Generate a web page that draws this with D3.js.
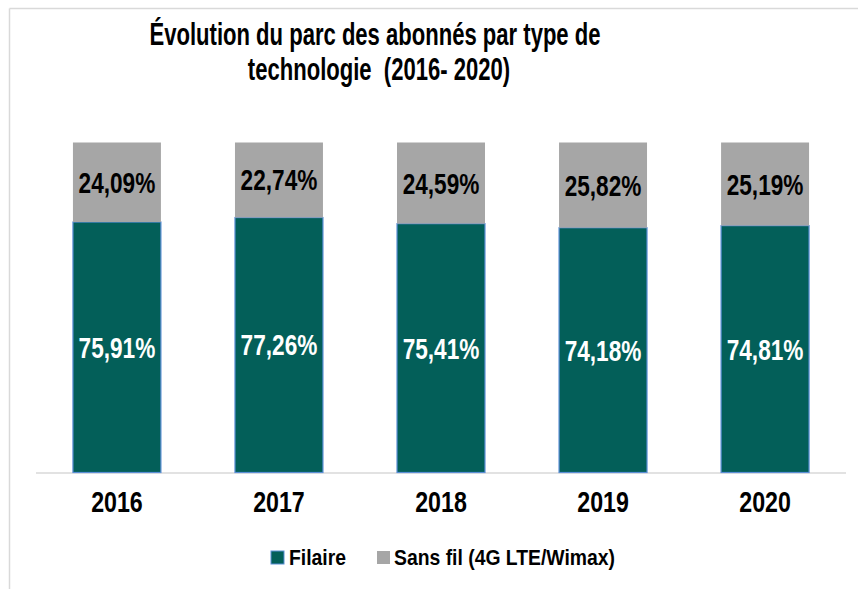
<!DOCTYPE html>
<html>
<head>
<meta charset="utf-8">
<script src="https://cdn.jsdelivr.net/npm/d3@7"></script>
<style>
  body { margin: 0; background: #fff; }
  text { font-family: "Liberation Sans Narrow", "Arial Narrow", "Liberation Sans", Arial, sans-serif; font-weight: bold; white-space: pre; }
</style>
</head>
<body>
<div id="chart"></div>
<script>
const years = ["2016", "2017", "2018", "2019", "2020"];
const filaire = [75.91, 77.26, 75.41, 74.18, 74.81];
const sansFil = [24.09, 22.74, 24.59, 25.82, 25.19];
const seriesNames = ["Filaire", "Sans fil (4G LTE/Wimax)"];

const width = 858, height = 589;
const colors = { filaire: "#035f59", sansFil: "#a6a6a6" };
// no narrow font installed, so squeeze the regular bold one
const place = (px, py, sx) => `translate(${px},${py}) scale(${sx},1)`;

const svg = d3.select("#chart").append("svg")
    .attr("width", width)
    .attr("height", height);

// frame lines (top and left)
svg.append("line").attr("x1", 9.5).attr("x2", width).attr("y1", 8.5).attr("y2", 8.5)
    .attr("stroke", "#d9d9d9").attr("stroke-width", 1.5);
svg.append("line").attr("x1", 9.5).attr("x2", 9.5).attr("y1", 8.5).attr("y2", height)
    .attr("stroke", "#d9d9d9").attr("stroke-width", 1.5);

// title
const titleLines = ["Évolution du parc des abonnés par type de", "technologie  (2016- 2020)"];
svg.selectAll("text.title")
    .data(titleLines)
    .enter().append("text")
    .attr("class", "title")
    .attr("transform", (d, i) => place(i ? 379 : 375, 45 + i * 34.5, 0.712))
    .attr("text-anchor", "middle")
    .attr("font-size", 31)
    .attr("fill", "#000")
    .text(d => d);

const data = years.map((y, i) => ({ year: y, filaire: filaire[i] / 100, sansFil: sansFil[i] / 100 }));
const stacked = d3.stack().keys(["filaire", "sansFil"])(data);

const x = d3.scaleBand().domain(years).range([36, 846]).paddingInner(0.457).paddingOuter(0.228);
const y = d3.scaleLinear().domain([0, 1]).range([472.5, 142.5]);

// axis line
svg.append("line").attr("x1", 36).attr("x2", 846).attr("y1", 473).attr("y2", 473)
    .attr("stroke", "#d9d9d9").attr("stroke-width", 1.5);

// bars
const layers = svg.selectAll("g.layer")
    .data(stacked)
    .enter().append("g")
    .attr("class", "layer")
    .attr("fill", d => colors[d.key]);

layers.selectAll("rect")
    .data(d => d.map(v => ({ key: d.key, v })))
    .enter().append("rect")
    .attr("x", d => x(d.v.data.year))
    .attr("y", d => y(d.v[1]))
    .attr("width", x.bandwidth())
    .attr("height", d => y(d.v[0]) - y(d.v[1]))
    .attr("stroke", d => d.key === "filaire" ? "#5b8fd6" : "none")
    .attr("stroke-width", 1.2);

// value labels
layers.selectAll("text")
    .data(d => d.map(v => ({ key: d.key, v })))
    .enter().append("text")
    .attr("transform", d => place(x(d.v.data.year) + x.bandwidth() / 2, (y(d.v[0]) + y(d.v[1])) / 2, 0.78))
    .attr("dy", "0.36em")
    .attr("text-anchor", "middle")
    .attr("font-size", 29)
    .attr("fill", d => d.key === "filaire" ? "#fff" : "#000")
    .text(d => (d.v.data[d.key] * 100).toFixed(2).replace(".", ",") + "%");

// x labels
svg.selectAll("text.year")
    .data(years)
    .enter().append("text")
    .attr("class", "year")
    .attr("transform", d => place(x(d) + x.bandwidth() / 2, 512, 0.8))
    .attr("text-anchor", "middle")
    .attr("font-size", 29)
    .attr("fill", "#000")
    .text(d => d);

// legend
const legend = svg.append("g");
const legItems = [
    { name: seriesNames[0], color: colors.filaire, stroke: "#5b8fd6", x: 271, tx: 289 },
    { name: seriesNames[1], color: colors.sansFil, stroke: "none", x: 377, tx: 394 }
];
legItems.forEach(it => {
    legend.append("rect")
        .attr("x", it.x).attr("y", 551)
        .attr("width", 13).attr("height", 13)
        .attr("fill", it.color)
        .attr("stroke", it.stroke);
    legend.append("text")
        .attr("transform", place(it.tx, 565, 0.88))
        .attr("font-size", 22)
        .attr("fill", "#000")
        .text(it.name);
});
</script>
</body>
</html>
